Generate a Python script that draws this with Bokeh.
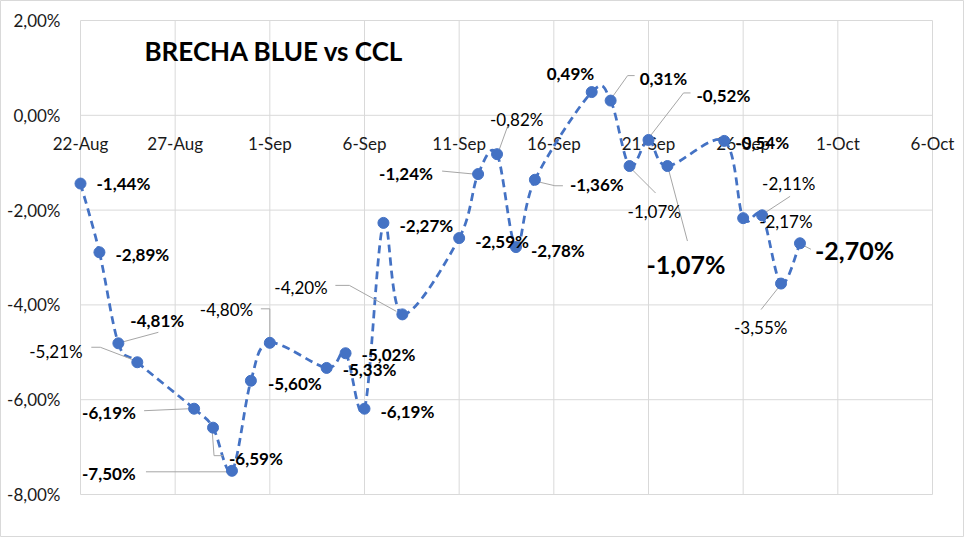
import pandas as pd
from bokeh.plotting import figure
from bokeh.models import ColumnDataSource, Range1d
from bokeh.core.properties import value
from bokeh.embed import file_html
from bokeh.resources import INLINE

# ---------------- data ----------------
dates = ["2023-08-22", "2023-08-23", "2023-08-24", "2023-08-25", "2023-08-28",
         "2023-08-29", "2023-08-30", "2023-08-31", "2023-09-01", "2023-09-04",
         "2023-09-05", "2023-09-06", "2023-09-07", "2023-09-08", "2023-09-11",
         "2023-09-12", "2023-09-13", "2023-09-14", "2023-09-15", "2023-09-18",
         "2023-09-19", "2023-09-20", "2023-09-21", "2023-09-22", "2023-09-25",
         "2023-09-26", "2023-09-27", "2023-09-28", "2023-09-29"]
brecha = [-1.44, -2.89, -4.81, -5.21, -6.19, -6.59, -7.50, -5.60, -4.80, -5.33,
          -5.02, -6.19, -2.27, -4.20, -2.59, -1.24, -0.82, -2.78, -1.36, 0.49,
          0.31, -1.07, -0.52, -1.07, -0.54, -2.17, -2.11, -3.55, -2.70]
x_tick_labels = ["22-Aug", "27-Aug", "1-Sep", "6-Sep", "11-Sep", "16-Sep",
                 "21-Sep", "26-Sep", "1-Oct", "6-Oct"]
y_ticks = [-8, -6, -4, -2, 0, 2]
y_tick_labels = ["-8,00%", "-6,00%", "-4,00%", "-2,00%", "0,00%", "2,00%"]
title_text = "BRECHA BLUE vs CCL"

# ---------------- label layout (pixel offsets from each point, y down) ----------------
# (dx, dy, style)  style: r = regular, b = bold, B = big bold
label_layout = [
    (16, 0, "b"), (16, 2, "b"), (12, -23, "b"), (-108, -11, "r"), (-112, 4, "b"),
    (16, 31, "b"), (-150, 3, "b"), (17, 3, "b"), (-70, -33, "r"), (16, 2, "b"),
    (16, 1, "b"), (16, 3, "b"), (16, 3, "b"), (-128, -27, "r"), (16, 3, "b"),
    (-99, -1, "b"), (-7, -35, "r"), (15, 3, "b"), (35, 5, "b"), (-45, -19, "b"),
    (29, -22, "b"), (-2, 45, "r"), (48, -44, "b"), (-21, 98, "B"), (11, 2, "b"),
    (16, 3, "r"), (0, -32, "r"), (-47, 44, "r"), (15, 7, "B"),
]
leader_layout = {
    2: [(40, -11), (3, -1)],
    3: [(-46, -15), (-37, -15), (-3, -2)],
    4: [(-50, 2), (-4, 0)],
    5: [(-1, 1), (1, 28), (10, 28)],
    6: [(-86, 1), (-4, 1)],
    8: [(-9, -34), (0, -34), (0, -5)],
    13: [(-67, -29), (-53, -29), (-6, -3)],
    15: [(-36, -3), (-4, 0)],
    16: [(11, -29), (2, -4)],
    18: [(3, 2), (20, 6), (28, 6)],
    20: [(24, -25), (17, -25), (2, -4)],
    21: [(2, 3), (26, 27)],
    22: [(42, -47), (35, -47), (1, -3)],
    23: [(1, 3), (20, 75)],
    26: [(28, -19), (2, -2)],
    27: [(-20, 26), (-1, 2)],
    28: [(11, 6), (3, 2)],
}

# ---------------- derived ----------------
d = pd.to_datetime(dates)
start = pd.Timestamp("2023-08-22")
days = [(t - start).days for t in d]
x_ticks = [5 * i for i in range(len(x_tick_labels))]

# plot-area geometry inside a full-canvas frame
W, H = 964, 537
PL, PR, PT, PB = 80, 32, 20, 43          # plot-area margins (px)
XA, XB = 0, 45                           # plot-area x extent (days)
YA, YB = -8, 2                           # plot-area y extent (%)
px_x = (W - PL - PR) / (XB - XA)
px_y = (H - PT - PB) / (YB - YA)
x_range = Range1d(XA - PL / px_x, XB + PR / px_x)
y_range = Range1d(YA - PB / px_y, YB + PT / px_y)

FONT = "Lato"
BLUE = "#4472C4"
GRID = "#d9d9d9"
TXT = "#1a1a1a"

p = figure(width=W, height=H, x_range=x_range, y_range=y_range,
           output_backend="svg", toolbar_location=None,
           x_axis_location=None, y_axis_location=None, min_border=0,
           background_fill_color="white", border_fill_color="white")
p.grid.visible = False
p.outline_line_color = GRID

# gridlines of the plot area
p.segment(x0=x_ticks, x1=x_ticks, y0=[YA] * len(x_ticks), y1=[YB] * len(x_ticks),
          line_color=GRID, line_width=1)
p.segment(x0=[XA] * len(y_ticks), x1=[XB] * len(y_ticks), y0=y_ticks, y1=y_ticks,
          line_color=GRID, line_width=1)

# y tick labels
p.text(x=[XA] * len(y_ticks), y=y_ticks, text=y_tick_labels, x_offset=-20,
       text_font=value(FONT), text_font_size="17px", text_align="right",
       text_baseline="middle", text_color=TXT)
# x tick labels under the 0 line
p.text(x=x_ticks, y=[0] * len(x_ticks), text=x_tick_labels, y_offset=28,
       text_font=value(FONT), text_font_size="17px", text_align="center",
       text_baseline="middle", text_color=TXT)

# smoothed dashed line (Catmull-Rom bezier through the data points)
n = len(days)
bx0, by0, bx1, by1, cx0, cy0, cx1, cy1 = [], [], [], [], [], [], [], []
for i in range(n - 1):
    i0 = max(i - 1, 0)
    i3 = min(i + 2, n - 1)
    xa0, ya0 = days[i0], brecha[i0]
    xa1, ya1 = days[i], brecha[i]
    xa2, ya2 = days[i + 1], brecha[i + 1]
    xa3, ya3 = days[i3], brecha[i3]
    bx0.append(xa1); by0.append(ya1)
    bx1.append(xa2); by1.append(ya2)
    cx0.append(xa1 + (xa2 - xa0) / 6); cy0.append(ya1 + (ya2 - ya0) / 6)
    cx1.append(xa2 - (xa3 - xa1) / 6); cy1.append(ya2 - (ya3 - ya1) / 6)
p.bezier(x0=bx0, y0=by0, x1=bx1, y1=by1, cx0=cx0, cy0=cy0, cx1=cx1, cy1=cy1,
         line_color=BLUE, line_width=2.75, line_dash="8 5")

# leader lines
lxs, lys = [], []
for i, pts in leader_layout.items():
    lxs.append([days[i] + dx / px_x for dx, dy in pts])
    lys.append([brecha[i] - dy / px_y for dx, dy in pts])
p.multi_line(xs=lxs, ys=lys, line_color="#a6a6a6", line_width=1)

# markers
p.scatter(days, brecha, size=11, fill_color=BLUE, line_color=BLUE)

# data labels
def fmt(v):
    return f"{v:.2f}".replace(".", ",") + "%"

groups = {"r": ("normal", "17px"), "b": ("bold", "17px"), "B": ("bold", "25px")}
for key, (style, size) in groups.items():
    idx = [i for i, l in enumerate(label_layout) if l[2] == key]
    src = ColumnDataSource(dict(
        x=[days[i] for i in idx], y=[brecha[i] for i in idx],
        t=[fmt(brecha[i]) for i in idx],
        xo=[label_layout[i][0] for i in idx], yo=[label_layout[i][1] for i in idx]))
    p.text(x="x", y="y", text="t", x_offset="xo", y_offset="yo", source=src,
           text_font=value(FONT), text_font_size=size, text_font_style=style,
           text_align="left", text_baseline="middle", text_color="black")

# title inside the plot area
p.text(x=[XA + (152 - 88) / px_x], y=[(122.5 - 58) / px_y], text=[title_text],
       text_font=value(FONT), text_font_size="26px", text_font_style="bold",
       text_align="left", text_baseline="middle", text_color="black")

open("out.html", "w").write(file_html(p, INLINE))
